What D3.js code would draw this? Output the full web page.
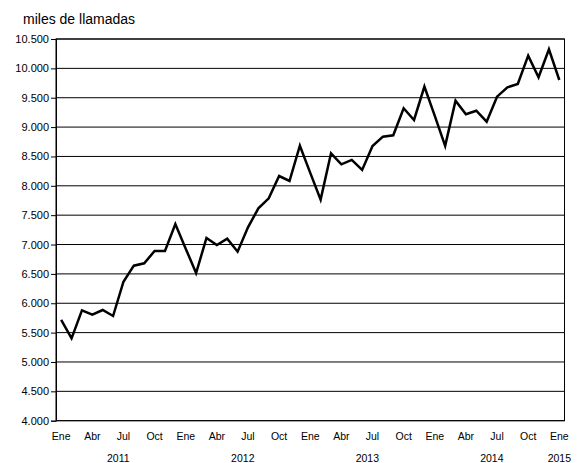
<!DOCTYPE html>
<html><head><meta charset="utf-8">
<script src="https://cdn.jsdelivr.net/npm/d3@7"></script>
<style>body{margin:0;background:#fff}svg{display:block}text{font-family:"Liberation Sans",Arial,sans-serif;fill:#000}</style>
</head><body><svg id="c" width="579" height="463"></svg>
<script>
const monthNames = ["Ene","Feb","Mar","Abr","May","Jun","Jul","Ago","Sep","Oct","Nov","Dic"];
const years = [2011,2012,2013,2014,2015];
const values = [
 5715,5403,5880,5805,5885,5783,6367,6640,6680,6890,6890,7350,
 6930,6515,7111,6992,7100,6878,7293,7617,7787,8167,8082,8683,
 8220,7765,8553,8366,8440,8270,8678,8837,8860,9320,9121,9690,
 9190,8680,9450,9218,9279,9092,9518,9678,9734,10216,9848,10325,
 9802
];
const yTicks = [4000,4500,5000,5500,6000,6500,7000,7500,8000,8500,9000,9500,10000,10500];
const shownMonths = ["Ene","Abr","Jul","Oct"];
const title = "miles de llamadas";

const data = values.map((v,i)=>({i, year: years[0]+Math.floor(i/12), month: monthNames[i%12], v}));
const L=56, R=564.5, T=39, B=420.7;
const svg = d3.select("#c");
const x = d3.scaleBand().domain(data.map(d=>d.i)).range([L,R]);
const cx = i => x(i)+x.bandwidth()/2;
const y = d3.scaleLinear().domain([4000,10500]).range([B,T]);

// gridlines
svg.append("g").selectAll("line").data(yTicks).join("line")
  .attr("x1",L).attr("x2",R).attr("y1",d=>y(d)).attr("y2",d=>y(d))
  .attr("stroke","#000").attr("stroke-width",1);
// border
svg.append("rect").attr("x",L).attr("y",T).attr("width",R-L).attr("height",B-T)
  .attr("fill","none").attr("stroke","#000").attr("stroke-width",1);

// y axis
const ya = svg.append("g").attr("transform",`translate(${L},0)`)
  .call(d3.axisLeft(y).tickValues(yTicks).tickSize(5).tickPadding(2).tickFormat(d=>d3.format(",.0f")(d).replace(",",".")));
ya.select(".domain").attr("stroke","#000");
ya.selectAll("text").style("font-size","11px").style("font-family","Liberation Sans, Arial, sans-serif");

// x month labels
svg.append("g").selectAll("text").data(data.filter(d=>shownMonths.includes(d.month))).join("text")
  .attr("x",d=>cx(d.i)).attr("y",440).attr("text-anchor","middle").style("font-size","10.5px")
  .text(d=>d.month);
// year labels
svg.append("g").selectAll("text").data(years).join("text")
  .attr("x",yr=>{const ms=data.filter(d=>d.year===yr); return (cx(ms[0].i)+cx(ms[ms.length-1].i))/2;})
  .attr("y",462).attr("text-anchor","middle").style("font-size","10.5px").text(d=>d);

// line
svg.append("path").datum(data)
  .attr("d",d3.line().x(d=>cx(d.i)).y(d=>y(d.v)))
  .attr("fill","none").attr("stroke","#000").attr("stroke-width",2.5).attr("stroke-linejoin","miter");

svg.append("text").attr("x",23).attr("y",24).style("font-size","14px").text(title);
</script></body></html>
